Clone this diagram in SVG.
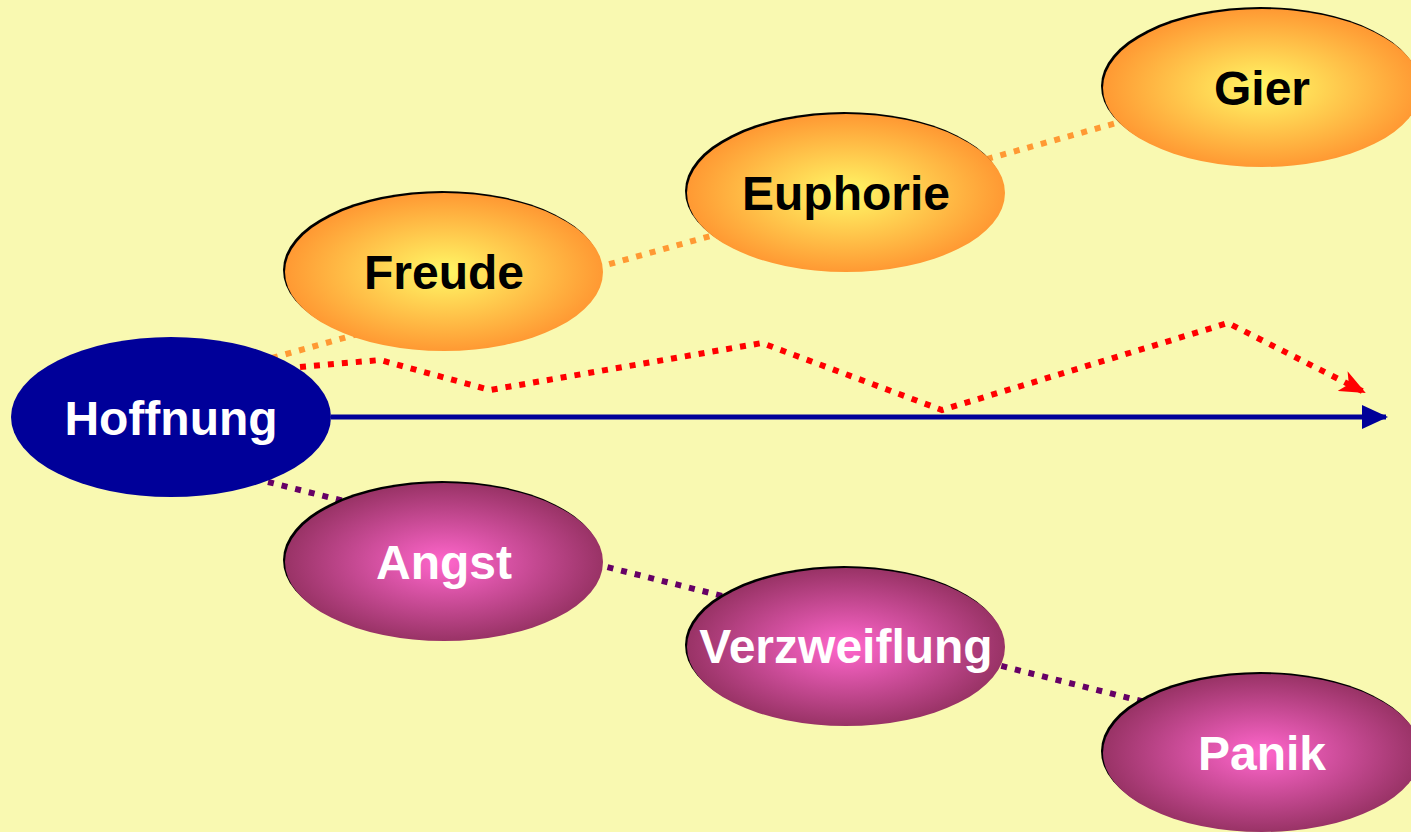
<svg xmlns="http://www.w3.org/2000/svg" width="1411" height="832" viewBox="0 0 1411 832">
<defs>
<radialGradient id="gOrange" cx="50%" cy="50%" r="50%">
<stop offset="0" stop-color="#FFF866"/>
<stop offset="1" stop-color="#FF9933"/>
</radialGradient>
<radialGradient id="gPink" cx="50%" cy="50%" r="50%">
<stop offset="0" stop-color="#FF66CC"/>
<stop offset="1" stop-color="#993366"/>
</radialGradient>
<marker id="arrBlue" markerWidth="26" markerHeight="24" refX="24" refY="12" orient="auto" markerUnits="userSpaceOnUse">
<path d="M0,0 L26,12 L0,24 Z" fill="#000099"/>
</marker>
<marker id="arrRed" markerWidth="26" markerHeight="22" refX="24" refY="11" orient="auto" markerUnits="userSpaceOnUse">
<path d="M0,0 L26,11 L0,22 L7,11 Z" fill="#FF0000"/>
</marker>
</defs>
<style>
.lbl{font-family:"Liberation Sans",Arial,sans-serif;font-weight:bold;font-size:48px;text-anchor:middle}
.dark{fill:#000000}
.light{fill:#FFFFFF}
.shadow{fill:#000000}
.org{fill:url(#gOrange)}
.pnk{fill:url(#gPink)}
.dot{fill:none;stroke-width:6;stroke-dasharray:6 8}
</style>
<rect width="1411" height="832" fill="#F9F9B1"/>
<g id="connectors">
<line class="dot" x1="272" y1="358" x2="1120" y2="122" stroke="#FF9933"/>
<line class="dot" x1="268" y1="482" x2="1145" y2="702" stroke="#660066"/>
<polyline class="dot" points="300,367 380,360 490,390 762,343 942,410 1228,323 1364,392" stroke="#FF0000" marker-end="url(#arrRed)"/>
<line x1="331" y1="417" x2="1386" y2="417" stroke="#000099" stroke-width="5" marker-end="url(#arrBlue)"/>
</g>
<g id="node-freude">
<ellipse class="shadow" cx="442" cy="270" rx="159" ry="79"/>
<ellipse class="org" cx="444" cy="272" rx="159" ry="79"/>
<text class="lbl dark" x="444" y="289">Freude</text>
</g>
<g id="node-euphorie">
<ellipse class="shadow" cx="844" cy="191" rx="159" ry="79"/>
<ellipse class="org" cx="846" cy="193" rx="159" ry="79"/>
<text class="lbl dark" x="846" y="210">Euphorie</text>
</g>
<g id="node-gier">
<ellipse class="shadow" cx="1260" cy="86" rx="159" ry="79"/>
<ellipse class="org" cx="1262" cy="88" rx="159" ry="79"/>
<text class="lbl dark" x="1262" y="105">Gier</text>
</g>
<g id="node-hoffnung">
<ellipse cx="171" cy="417" rx="160" ry="80" fill="#000099"/>
<text class="lbl light" x="171" y="435">Hoffnung</text>
</g>
<g id="node-angst">
<ellipse class="shadow" cx="442" cy="560" rx="159" ry="79"/>
<ellipse class="pnk" cx="444" cy="562" rx="159" ry="79"/>
<text class="lbl light" x="444" y="579">Angst</text>
</g>
<g id="node-verzweiflung">
<ellipse class="shadow" cx="844" cy="645" rx="159" ry="79"/>
<ellipse class="pnk" cx="846" cy="647" rx="159" ry="79"/>
<text class="lbl light" x="846" y="663">Verzweiflung</text>
</g>
<g id="node-panik">
<ellipse class="shadow" cx="1260" cy="751" rx="159" ry="79"/>
<ellipse class="pnk" cx="1262" cy="753" rx="159" ry="79"/>
<text class="lbl light" x="1262" y="770">Panik</text>
</g>
</svg>
